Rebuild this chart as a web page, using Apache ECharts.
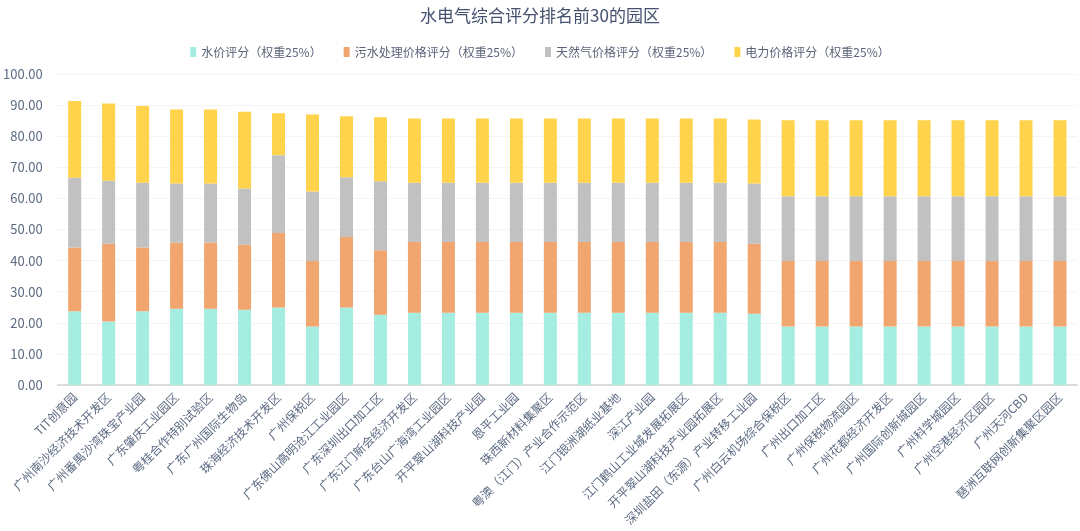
<!DOCTYPE html>
<html><head><meta charset="utf-8">
<script src="https://cdn.jsdelivr.net/npm/echarts@6/dist/echarts.min.js"></script>
<style>html,body{margin:0;padding:0;background:#fff}#c{width:1080px;height:531px}</style>
</head><body><div id="c"></div>
<script>
const categories = ["TIT创意园","广州南沙经济技术开发区","广州番禺沙湾珠宝产业园","广东肇庆工业园区","粤桂合作特别试验区","广东广州国际生物岛","珠海经济技术开发区","广州保税区","广东佛山高明沧江工业园区","广东深圳出口加工区","广东江门新会经济开发区","广东台山广海湾工业园区","开平翠山湖科技产业园","恩平工业园","珠西新材料集聚区","粤澳（江门）产业合作示范区","江门银洲湖纸业基地","深江产业园","江门鹤山工业城发展拓展区","开平翠山湖科技产业园拓展区","深圳盐田（东源）产业转移工业园","广州白云机场综合保税区","广州出口加工区","广州保税物流园区","广州花都经济开发区","广州国际创新城园区","广州科学城园区","广州空港经济区园区","广州天河CBD","琶洲互联网创新集聚区园区"];
// cumulative tops
const waterTop = [23.7,20.4,23.7,24.5,24.5,24.2,24.9,18.8,24.9,22.6,23.2,23.2,23.2,23.2,23.2,23.2,23.2,23.2,23.2,23.2,22.9,18.8,18.8,18.8,18.8,18.8,18.8,18.8,18.8,18.8];
const sewageTop = [44.25,45.4,44.25,45.8,45.8,45.1,48.9,39.85,47.6,43.3,46.0,46.0,46.0,46.0,46.0,46.0,46.0,46.0,46.0,46.0,45.4,39.85,39.85,39.85,39.85,39.85,39.85,39.85,39.85,39.85];
const gasTop = [66.6,65.7,65.0,64.8,64.8,63.2,73.9,62.2,66.8,65.5,65.0,65.0,65.0,65.0,65.0,65.0,65.0,65.0,65.0,65.0,64.8,60.7,60.7,60.7,60.7,60.7,60.7,60.7,60.7,60.7];
const powerTop = [91.3,90.5,89.7,88.6,88.6,87.9,87.4,87.0,86.4,86.1,85.7,85.7,85.7,85.7,85.7,85.7,85.7,85.7,85.7,85.7,85.4,85.1,85.1,85.1,85.1,85.1,85.1,85.1,85.1,85.1];
const seriesNames = ["水价评分（权重25%）","污水处理价格评分（权重25%）","天然气价格评分（权重25%）","电力价格评分（权重25%）"];
const colors = ["#a4ede0","#f1a56f","#c1c1c1","#ffd34b"];
const yTicks = {min:0,max:100,interval:10};

const r2 = v => Math.round(v*100)/100;
const water = waterTop.slice();
const sewage = sewageTop.map((v,i)=>r2(v-waterTop[i]));
const gas = gasTop.map((v,i)=>r2(v-sewageTop[i]));
const power = powerTop.map((v,i)=>r2(v-gasTop[i]));
const vals = [water,sewage,gas,power];

const chart = echarts.init(document.getElementById('c'));
chart.setOption({
  animation:false,
  title:{text:'水电气综合评分排名前30的园区',left:'center',top:2,textStyle:{fontSize:17,fontWeight:'normal',color:'#44506e',fontFamily:'"Noto Sans CJK SC", sans-serif'}},
  legend:{top:41,left:'center',itemWidth:6,itemHeight:10,itemGap:22,icon:'rect',textStyle:{fontSize:12,color:'#5a6378',fontFamily:'"Noto Sans CJK SC", sans-serif'},data:seriesNames},
  grid:{left:53,right:3,top:74,bottom:146},
  xAxis:{type:'category',data:categories,
    axisLine:{lineStyle:{color:'#dcdcdc',width:2}},axisTick:{show:false},
    axisLabel:{interval:0,rotate:45,fontSize:12,color:'#5c6a82',margin:10,fontFamily:'"Noto Sans CJK SC", sans-serif'}},
  yAxis:{type:'value',min:yTicks.min,max:yTicks.max,interval:yTicks.interval,
    axisLine:{show:false},axisTick:{show:false},
    splitLine:{lineStyle:{color:'#f4f4f4'}},
    axisLabel:{formatter:v=>v.toFixed(2),fontSize:13,color:'#5c6a82',margin:15,fontFamily:'"Noto Sans CJK SC", sans-serif'}},
  series: seriesNames.map((n,i)=>({name:n,type:'bar',stack:'t',barWidth:13,data:vals[i],itemStyle:{color:colors[i]}}))
});
</script></body></html>
